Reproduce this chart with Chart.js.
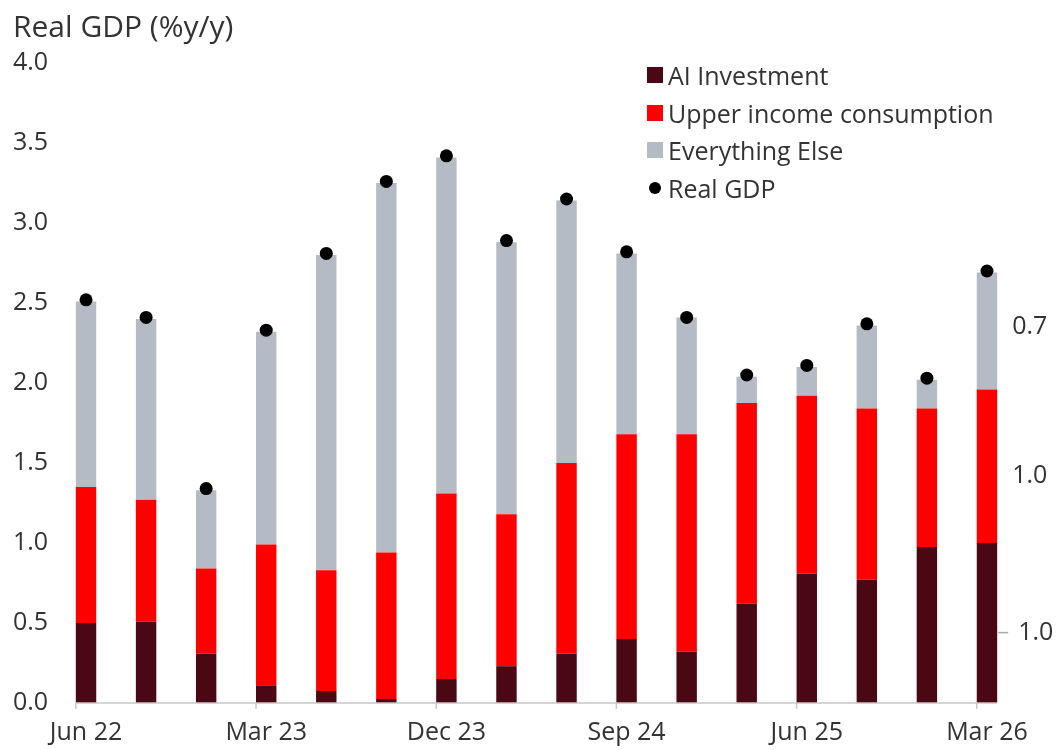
<!DOCTYPE html>
<html>
<head>
<meta charset="utf-8">
<script src="https://cdn.jsdelivr.net/npm/chart.js@4.4.1/dist/chart.umd.min.js"></script>
<style>
  body { margin: 0; background: #fff; }
  #wrap { position: relative; width: 1058px; height: 750px; }
  #legenda { position: absolute; left: 647px; top: 56px; font-family: 'Open Sans', sans-serif; font-size: 25px; color: #333; }
  #legenda .item { display: flex; align-items: center; height: 37.7px; white-space: nowrap; }
  #legenda .box { width: 16px; height: 16px; margin-right: 5px; }
  #legenda .dot { width: 12px; height: 12px; border-radius: 50%; margin: 0 7px 0 2px; }
</style>
</head>
<body>
<div id="wrap">
  <canvas id="grafico" width="1058" height="750"></canvas>
  <div id="legenda"></div>
</div>
<script>
// quarters
const labels = ['Jun 22', 'Sep 22', 'Dec 22', 'Mar 23', 'Jun 23', 'Sep 23', 'Dec 23', 'Mar 24',
                'Jun 24', 'Sep 24', 'Dec 24', 'Mar 25', 'Jun 25', 'Sep 25', 'Dec 25', 'Mar 26'];

// contributions (pp)
const aiInvestment = [0.50, 0.51, 0.31, 0.11, 0.075, 0.025, 0.15, 0.23, 0.31, 0.40, 0.32, 0.62, 0.81, 0.77, 0.975, 1.00];
const upperIncome  = [0.85, 0.76, 0.53, 0.88, 0.755, 0.915, 1.16, 0.95, 1.19, 1.28, 1.36, 1.255, 1.11, 1.07, 0.865, 0.96];
const everythingElse = [1.16, 1.13, 0.49, 1.33, 1.97, 2.31, 2.10, 1.70, 1.64, 1.13, 0.73, 0.165, 0.18, 0.52, 0.18, 0.73];
const realGdp = [2.52, 2.41, 1.34, 2.33, 2.81, 3.26, 3.42, 2.89, 3.15, 2.82, 2.41, 2.05, 2.11, 2.37, 2.03, 2.70];

// stray labels on the right edge
const sideValues = [2.35, 1.42, 0.44];
const sideTexts = ['0.7', '1.0', '1.0'];
const sideTick = [false, false, true];

const fonte = "'Open Sans', sans-serif";
const cinza = '#333';

Chart.defaults.font.family = fonte;
Chart.defaults.color = cinza;

// axis line, ticks and the right-hand labels
const extras = {
    id: 'extras',
    afterDatasetsDraw(chart) {
        const ctx = chart.ctx;
        const y = chart.scales.y;
        const bars = chart.getDatasetMeta(1).data;
        const first = bars[0], last = bars[bars.length - 1];
        const base = y.getPixelForValue(0);
        ctx.save();
        ctx.strokeStyle = '#c8c8c8';
        ctx.lineWidth = 1.5;
        ctx.beginPath();
        ctx.moveTo(first.x - first.width / 2, base);
        ctx.lineTo(last.x + last.width / 2, base);
        for (let i = 0; i < bars.length; i += 3) {
            const bx = bars[i].x - bars[i].width / 2;
            ctx.moveTo(bx, base);
            ctx.lineTo(bx, base + 6);
        }
        ctx.stroke();

        const right = last.x + last.width / 2;
        ctx.font = '25px ' + fonte;
        ctx.fillStyle = cinza;
        ctx.textBaseline = 'middle';
        ctx.textAlign = 'left';
        sideValues.forEach((v, i) => {
            const py = y.getPixelForValue(v);
            let tx = right + 15;
            if (sideTick[i]) {
                ctx.beginPath();
                ctx.strokeStyle = '#aaa';
                ctx.moveTo(right + 1, py);
                ctx.lineTo(right + 11, py);
                ctx.stroke();
                tx = right + 21;
            }
            ctx.fillText(sideTexts[i], tx, py);
        });
        ctx.restore();
    }
};

const data = {
    labels,
    datasets: [
        { type: 'line', label: 'Real GDP', data: realGdp, showLine: false, stack: 'gdp', order: 0,
          pointRadius: 6.5, pointBackgroundColor: '#000', pointBorderWidth: 0, backgroundColor: '#000', legendShape: 'dot' },
        { label: 'AI Investment', data: aiInvestment, backgroundColor: '#4a0714', stack: 's', order: 1 },
        { label: 'Upper income consumption', data: upperIncome, backgroundColor: '#ff0000', stack: 's', order: 1 },
        { label: 'Everything Else', data: everythingElse, backgroundColor: '#b4bbc5', stack: 's', order: 1 }
    ]
};

const config = {
    type: 'bar',
    data,
    options: {
        responsive: false,
        animation: false,
        datasets: { bar: { barPercentage: 0.34, categoryPercentage: 1 } },
        layout: { padding: { left: 13, right: 41, top: 0, bottom: 0 } },
        plugins: {
            legend: { display: false },
            tooltip: { enabled: false },
            title: {
                display: true, text: 'Real GDP (%y/y)', align: 'start', color: cinza,
                font: { size: 30, weight: 'normal' }, padding: { top: 10, bottom: 17 }
            }
        },
        scales: {
            x: {
                stacked: true,
                grid: { display: false, drawTicks: false },
                border: { display: false },
                ticks: {
                    autoSkip: false, maxRotation: 0, padding: 15, color: cinza, font: { size: 25 },
                    callback: function(val, i) { return i % 3 === 0 ? labels[i] : ''; }
                },
                afterFit(scale) { scale.height = 47; }
            },
            y: {
                stacked: true, min: 0, max: 4,
                grid: { display: false, drawTicks: false },
                border: { display: false },
                ticks: {
                    stepSize: 0.5, crossAlign: 'far', color: cinza, font: { size: 25 },
                    callback: v => v.toFixed(1)
                },
                afterFit(scale) { scale.width = 43; }
            }
        }
    },
    plugins: [extras]
};

const grafico = new Chart(document.getElementById('grafico'), config);

// legend in the order of the picture
const ordem = [1, 2, 3, 0];
const leg = document.getElementById('legenda');
ordem.forEach(i => {
    const ds = data.datasets[i];
    const item = document.createElement('div');
    item.className = 'item';
    const m = document.createElement('span');
    m.className = ds.legendShape === 'dot' ? 'dot' : 'box';
    m.style.background = ds.backgroundColor;
    const t = document.createElement('span');
    t.textContent = ds.label;
    item.appendChild(m);
    item.appendChild(t);
    leg.appendChild(item);
});
</script>
</body>
</html>
